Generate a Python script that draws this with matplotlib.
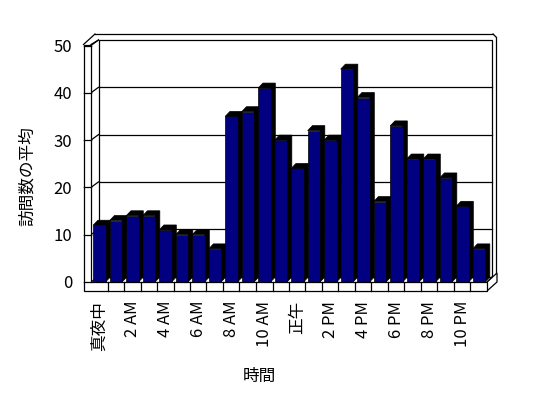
import matplotlib
matplotlib.use('Agg')
import matplotlib.pyplot as plt
from matplotlib.patches import Polygon
from matplotlib.lines import Line2D
from matplotlib.transforms import IdentityTransform

plt.rcParams['font.family'] = ['Noto Sans CJK JP', 'DejaVu Sans']

# ---- data ----
tick_labels = ['真夜中', '2 AM', '4 AM', '6 AM', '8 AM', '10 AM',
               '正午', '2 PM', '4 PM', '6 PM', '8 PM', '10 PM']
values = [12, 13, 14, 14, 11, 10, 10, 7, 35, 36, 41, 30,
          24, 32, 30, 45, 39, 17, 33, 26, 26, 22, 16, 7]
yticks = [0, 10, 20, 30, 40, 50]
ylabel = '訪問数の平均'
xlabel = '時間'

W, H, DPI = 548, 398, 100
fig = plt.figure(figsize=(W / DPI, H / DPI), dpi=DPI)
fig.patch.set_facecolor('white')

# front plane of the 3-D box
FX0, FX1, FY0, FY50 = 91, 487, 282, 45.5
ax = fig.add_axes([FX0 / W, (H - FY0) / H, (FX1 - FX0) / W, (FY0 - FY50) / H])
n = len(values)
ax.set_xlim(0, n)
ax.set_ylim(0, 50)
for s in ax.spines.values():
    s.set_visible(False)
ax.patch.set_alpha(0)

NAVY = '#000080'
LW = 0.9
ID = IdentityTransform()


def pt(x, y, ox=0.0, oy=0.0):
    """data point + pixel offset (ox right, oy down) -> display coords"""
    X, Y = ax.transData.transform((x, y))
    return (X + ox, Y - oy)


def back(x, y):
    return pt(x, y, 7.5 - 2.0 * x / n, -5.5)


def line(p, q, z=1):
    ax.add_line(Line2D([p[0], q[0]], [p[1], q[1]], transform=ID, color='black',
                       lw=LW, clip_on=False, zorder=z))


def poly(pts, fc, z=1, ec='black', lw=LW):
    ax.add_patch(Polygon(pts, closed=True, transform=ID, facecolor=fc,
                         edgecolor=ec, lw=lw, clip_on=False, zorder=z))


# back wall (inner face)
poly([back(0, 0), back(n, 0), back(n, 50), back(0, 50)], 'white', z=1)
for v in yticks[1:-1]:
    line(back(0, v), back(n, v), z=1.1)
# outer edges of the walls
line(pt(0, 50, -7.5, -1), pt(0, 50, 4, -11.5))
line(pt(0, 50, 4, -11.5), pt(n, 50, 6, -11.5))
line(pt(n, 50, 6, -11.5), pt(n, 50, 9, -8.5))
line(pt(n, 50, 9, -8.5), pt(n, 0, 9, -8))
# left wall inner face top edge and tick continuations
line(pt(0, 50, 0, -1), back(0, 50))
for v in yticks:
    line(pt(0, v, -7.5), pt(0, v))
    line(pt(0, v), back(0, v))
# floor right side
poly([pt(n, 0), pt(n, 0, 0, 9), pt(n, 0, 10, 0), pt(n, 0, 10, -9)], 'white', z=1)
line(pt(n, 0), back(n, 0))

# left wall front edge + floor front face (L shape)
poly([pt(0, 50, -7.5, -1), pt(0, 50, 0, -1), pt(0, 0), pt(n, 0),
      pt(n, 0, 0, 9), pt(0, 0, -7.5, 9)], 'white', z=3)
for v in yticks:
    line(pt(0, v, -7.5), pt(0, v), z=3.1)
for i in range(1, n):
    line(pt(i, 0), pt(i, 0, 0, 9), z=3.1)

# bars
GAP, BW = 0.13, 0.75
DX, DY = 4.8, -5.0
for i, v in enumerate(values):
    x0, x1 = i + GAP, i + GAP + BW
    poly([pt(x0, v), pt(x1, v), pt(x1, 0), pt(x1, 0, DX, DY),
          pt(x1, v, DX, DY), pt(x0, v, DX, DY)], 'black', z=2, lw=0.5)
ax.bar([i + GAP for i in range(n)], values, width=BW, align='edge',
       color=NAVY, edgecolor='black', linewidth=0.5, zorder=2.5)

# ticks and labels
FS = 12
ax.set_yticks(yticks)
ax.set_yticklabels([str(v) for v in yticks], fontsize=FS)
ax.set_xticks([i + 0.5 for i in range(0, n, 2)])
ax.set_xticklabels(tick_labels, rotation=90, fontsize=FS, va='top', ha='center')
ax.tick_params(axis='y', length=0, pad=13.5)
ax.tick_params(axis='x', length=0, pad=13.5)

fig.text(27.5 / W, 1 - 176 / H, ylabel, rotation=90, ha='center', va='center', fontsize=FS)
fig.text(259.5 / W, 1 - 376 / H, xlabel, ha='center', va='center', fontsize=FS)

fig.savefig('out.png', dpi=DPI, facecolor='white')
